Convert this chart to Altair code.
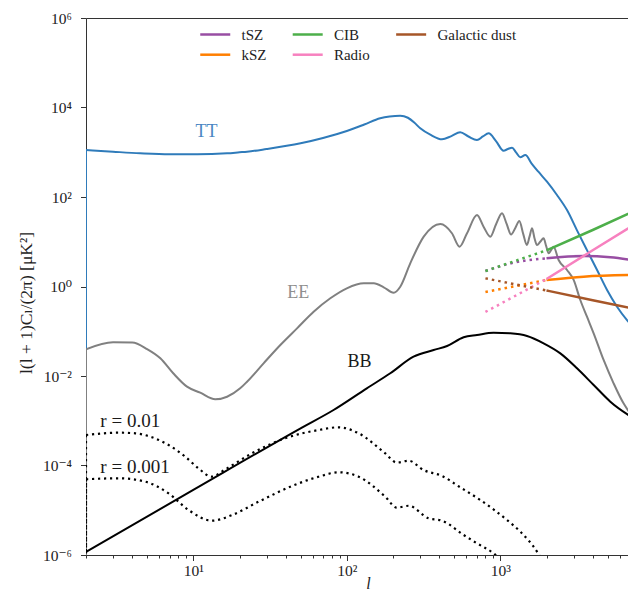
import altair as alt
import pandas as pd

# ---------------- data ----------------
tt_l = [2, 3, 4.5, 7, 10.6, 16.6, 20, 22.4, 30, 50, 70, 100, 130, 165, 190, 223, 250, 275, 301, 350,
        417, 480, 548, 620, 705, 770, 839, 940, 1050, 1120, 1192, 1270, 1350, 1456, 1600, 1770, 2014,
        2340, 2720, 3160, 3670, 4270, 4960, 5760, 6690, 7690]
tt_v = [1122, 1028, 948, 900, 900, 948, 997, 1028, 1180, 1585, 2080, 2990, 4170, 5740, 6300, 6560, 5900,
        4620, 3430, 2470, 1945, 2300, 2790, 2250, 1880, 2250, 2650, 1750, 1083, 1180, 1264, 980, 771, 869,
        560, 367, 220, 111, 51, 18, 6.5, 2.34, 0.836, 0.354, 0.178, 0.107]

ee_l = [2, 3, 4, 5, 6.1, 7.4, 9.1, 11.1, 13.9, 16.6, 20.2, 22.4, 28.7, 36.9, 47.4, 60.8, 78.1, 100, 129,
        150, 174, 202, 223, 259, 317, 407, 484, 543, 607, 705, 778, 861, 940, 1026, 1100, 1175, 1250, 1330,
        1410, 1490, 1550, 1610, 1670, 1734, 1820, 1914, 1990, 2065, 2140, 2224, 2398, 2720, 3004, 3320,
        3670, 4056, 4710, 5470, 6350, 7030, 7690]
ee_v = [0.0395, 0.0566, 0.056, 0.040, 0.0249, 0.0115, 0.00577, 0.00424, 0.00301, 0.00344, 0.00531,
        0.00746, 0.0192, 0.0493, 0.116, 0.273, 0.545, 0.912, 1.18, 1.18, 0.96, 0.727, 0.99, 3.30, 13.0,
        24.9, 15.5, 7.75, 15.5, 39.6, 21.7, 13.0, 25, 43.2, 25, 14.5, 20, 29, 15, 8.5, 13, 20, 12, 8.46,
        10, 11.9, 8, 5.5, 6.5, 7.75, 3.9, 2.34, 1.40, 0.50, 0.211, 0.090, 0.0228, 0.00687, 0.00245,
        0.00147, 0.00115]

bb_l = [2, 10, 50, 82, 135, 192, 272, 368, 450, 577, 705, 904, 1161, 1493, 1914, 2460, 3160, 4056,
        5210, 7690]
bb_v = [1.17e-6, 2.85e-5, 6.78e-4, 1.74e-3, 5.31e-3, 0.0115, 0.0270, 0.0381, 0.0468, 0.0733, 0.0824,
        0.0929, 0.0899, 0.0783, 0.0538, 0.0321, 0.0149, 6.3e-3, 2.67e-3, 1.04e-3]

r01_l = [2, 3.26, 4.19, 5.38, 6.9, 8.87, 10.8, 13.2, 16.2, 24.1, 39.7, 65.5, 88.5, 119.4, 178, 212,
         253, 316, 417, 548, 741, 1106, 1350, 1734, 2000]
r01_v = [4.8e-4, 5.41e-4, 5.24e-4, 4.27e-4, 2.87e-4, 1.57e-4, 8.65e-5, 5.62e-5, 8.22e-5, 1.87e-4,
         4.06e-4, 6.21e-4, 7.14e-4, 5.24e-4, 1.87e-4, 1.16e-4, 1.28e-4, 7.93e-5, 5.82e-5, 3.26e-5,
         1.69e-5, 6.05e-6, 3.32e-6, 1.19e-6, 5e-7]

r001_l = [2, 3.26, 4.87, 6.9, 9.32, 13.2, 17.9, 26.6, 44.0, 65.5, 88.5, 119.4, 178, 212, 253, 341,
          417, 577, 705, 904, 1000]
r001_v = [4.92e-5, 5.18e-5, 4.35e-5, 2.39e-5, 1.01e-5, 5.85e-6, 7.83e-6, 1.55e-5, 3.48e-5, 5.62e-5,
          7.05e-5, 5.62e-5, 2.01e-5, 1.14e-5, 1.26e-5, 6.6e-6, 5.85e-6, 2.8e-6, 1.82e-6, 1.09e-6, 8e-7]

# foregrounds: dotted part (extrapolated range) and solid part
fg_names = ['tSZ', 'kSZ', 'CIB', 'Radio', 'Galactic dust']
fg_colors = ['#984ea3', '#ff7f00', '#4daf4a', '#f781bf', '#a65628']
tsz_dot_l, tsz_dot_v = [800, 1216, 2000], [2.22, 3.40, 4.27]
tsz_l, tsz_v = [2000, 3490, 5210, 7690], [4.27, 4.81, 4.52, 3.77]
ksz_dot_l, ksz_dot_v = [800, 2000], [0.754, 1.40]
ksz_l, ksz_v = [2000, 3490, 7690], [1.40, 1.66, 1.81]
cib_dot_l, cib_dot_v = [800, 2000], [2.22, 6.44]
cib_l, cib_v = [2000, 4000, 7690], [6.44, 18.3, 51]
radio_dot_l, radio_dot_v = [800, 2000], [0.27, 1.47]
radio_l, radio_v = [2000, 4000, 7690], [1.47, 6.44, 25.8]
dust_dot_l, dust_dot_v = [800, 2000], [1.52, 0.815]
dust_l, dust_v = [2000, 4000, 7690], [0.815, 0.494, 0.309]

# text annotations
ann_c_text = ['TT', 'EE', 'BB']
ann_c_l = [12.2, 48.2, 121]
ann_c_v = [2880, 0.705, 0.0202]
ann_c_col = ['#4a86c3', '#8f8f8f', '#1a1a1a']
ann_r_text = ['r = 0.01', 'r = 0.001']
ann_r_l = [2.48, 2.48]
ann_r_v = [1.0e-3, 9.4e-5]

L_MIN, L_MAX = 2, 6790
y_ticks = [1e-6, 1e-4, 1e-2, 1, 1e2, 1e4, 1e6]
x_major = [10, 100, 1000]
x_minor = [m * d for d in (1, 10, 100, 1000) for m in range(2, 10) if m * d <= L_MAX]

FLOOR = 1e-30  # spectra start from zero just below the first multipole


def series(l, v):
    return pd.DataFrame({'l': l, 'v': v, 'i': list(range(len(l)))})


def fg_frame(parts):
    rows = []
    for name, l, v in parts:
        rows += [{'name': name, 'l': a, 'v': b, 'i': k} for k, (a, b) in enumerate(zip(l, v))]
    return pd.DataFrame(rows)


fg_dot = fg_frame([('tSZ', tsz_dot_l, tsz_dot_v), ('kSZ', ksz_dot_l, ksz_dot_v),
                   ('CIB', cib_dot_l, cib_dot_v), ('Radio', radio_dot_l, radio_dot_v),
                   ('Galactic dust', dust_dot_l, dust_dot_v)])
fg_sol = fg_frame([('tSZ', tsz_l, tsz_v), ('kSZ', ksz_l, ksz_v), ('CIB', cib_l, cib_v),
                   ('Radio', radio_l, radio_v), ('Galactic dust', dust_l, dust_v)])

# ---------------- styling ----------------
FONT = "'Liberation Serif', 'DejaVu Serif', serif"
INK = '#222222'
TT_C, EE_C = '#2f7bba', '#808080'

sup = "'' + round(log(datum.value) / LN10)"
for a, b in [('-', '⁻'), ('0', '⁰'), ('1', '¹'), ('2', '²'), ('3', '³'), ('4', '⁴'), ('6', '⁶')]:
    sup = f"replace({sup}, '{a}', '{b}')"
pow_label = "'10' + " + sup

W, H = 542, 537
xscale = alt.Scale(type='log', domain=[L_MIN, L_MAX], nice=False)
yscale = alt.Scale(type='log', domain=[1e-6, 1e6], nice=False)
cscale = alt.Scale(domain=fg_names, range=fg_colors)

yaxis = alt.Axis(values=y_ticks, labelExpr=pow_label, tickSize=5.5, tickColor='#333', tickWidth=1,
                 domain=False, grid=False, labelFont=FONT, labelFontSize=15.5, labelColor=INK,
                 labelPadding=9, labelOverlap=False,
                 title='l(l + 1)Cₗ/(2π) [μK²]', titleFont=FONT, titleFontSize=17.5,
                 titleFontWeight='normal', titleColor=INK, titleX=-60, titleY=H / 2 + 16,
                 titleAngle=270, titleAlign='center', titleBaseline='middle')
xaxis = alt.Axis(values=x_major, labelExpr=pow_label, tickSize=5.5, tickColor='#333', tickWidth=1,
                 orient='bottom', domain=False, grid=False, labelFont=FONT, labelFontSize=15.5,
                 labelColor=INK, labelPadding=3, labelOverlap=False,
                 title='l', titleFont=FONT, titleFontSize=16, titleFontStyle='italic',
                 titleFontWeight='normal', titleColor=INK, titleX=282, titleY=33,
                 titleBaseline='alphabetic')
xminor = alt.Axis(values=x_minor, labels=False, tickSize=3, tickColor='#333', tickWidth=1,
                  orient='bottom', domain=False, grid=False, title=None)


def X(axis=None):
    return alt.X('l:Q', scale=xscale, axis=axis)


def Y():
    return alt.Y('v:Q', scale=yscale, axis=yaxis)


def line(df, color, width=2, dash=None, axis=None):
    kw = dict(color=color, strokeWidth=width, clip=True, interpolate='monotone')
    if dash:
        kw['strokeDash'] = dash
    return alt.Chart(df).mark_line(**kw).encode(x=X(axis), y=Y(), order=alt.Order('i:Q'))


DOT = [2.2, 3.8]
tt = line(series(tt_l, tt_v), TT_C, axis=xaxis)
minor = alt.Chart(series(tt_l, tt_v)).mark_line(opacity=0).encode(x=X(xminor), y=Y())
ee = line(series(ee_l, ee_v), EE_C)
bb = line(series(bb_l, bb_v), '#000000')
r01 = line(series(r01_l, r01_v), '#000000', width=2.2, dash=DOT)
r001 = line(series(r001_l, r001_v), '#000000', width=2.2, dash=DOT)

# the spectra rise from zero at the first multipole: vertical edge at l = 2
edge_solid = pd.DataFrame({'l': [tt_l[0], ee_l[0]], 'v': [tt_v[0], ee_v[0]], 'v2': [FLOOR, FLOOR],
                           'c': [TT_C, EE_C]})
edge_dot = pd.DataFrame({'l': [r01_l[0], r001_l[0]], 'v': [r01_v[0], r001_v[0]], 'v2': [FLOOR, FLOOR]})
es = alt.Chart(edge_solid).mark_rule(strokeWidth=2, clip=True).encode(
    x=X(), y=Y(), y2='v2:Q', color=alt.Color('c:N', scale=None))
ed = alt.Chart(edge_dot).mark_rule(strokeWidth=2.2, strokeDash=DOT, clip=True, color='#000000').encode(
    x=X(), y=Y(), y2='v2:Q')

fgd = alt.Chart(fg_dot).mark_line(strokeWidth=2.5, strokeDash=[2.5, 4], clip=True,
                                  interpolate='monotone').encode(
    x=X(), y=Y(), order=alt.Order('i:Q'),
    color=alt.Color('name:N', scale=cscale, legend=None))
fgs = alt.Chart(fg_sol).mark_line(strokeWidth=2.5, clip=True, interpolate='monotone').encode(
    x=X(), y=Y(), order=alt.Order('i:Q'),
    color=alt.Color('name:N', scale=cscale, legend=alt.Legend(
        orient='none', legendX=112.75, legendY=7.5, columns=3, symbolType='M-1,0H3', symbolSize=225,
        symbolStrokeWidth=2.5, labelFont=FONT, labelFontSize=15, labelColor=INK, labelOffset=24.75,
        columnPadding=20.45, rowPadding=3.2, title=None, padding=0)))

ann_c = pd.DataFrame({'t': ann_c_text, 'l': ann_c_l, 'v': ann_c_v, 'c': ann_c_col})
ann_r = pd.DataFrame({'t': ann_r_text, 'l': ann_r_l, 'v': ann_r_v})
txt_c = alt.Chart(ann_c).mark_text(font=FONT, fontSize=18, align='center', baseline='middle').encode(
    x=X(), y=Y(), text='t:N', color=alt.Color('c:N', scale=None))
txt_r = alt.Chart(ann_r).mark_text(font=FONT, fontSize=19, align='left', baseline='middle',
                                   color='#1a1a1a').encode(x=X(), y=Y(), text='t:N')

chart = alt.layer(tt, minor, es, ed, ee, bb, r01, r001, fgd, fgs, txt_c, txt_r).resolve_axis(
    x='independent').resolve_scale(color='independent').properties(
    width=W, height=H,
    padding={'left': 78, 'top': 10, 'right': 0, 'bottom': 39},
    autosize=alt.AutoSizeParams(type='none'),
    background='white',
).configure_view(stroke='#333', strokeWidth=1)

chart.save('out.html', embed_options={'renderer': 'svg', 'actions': False})
